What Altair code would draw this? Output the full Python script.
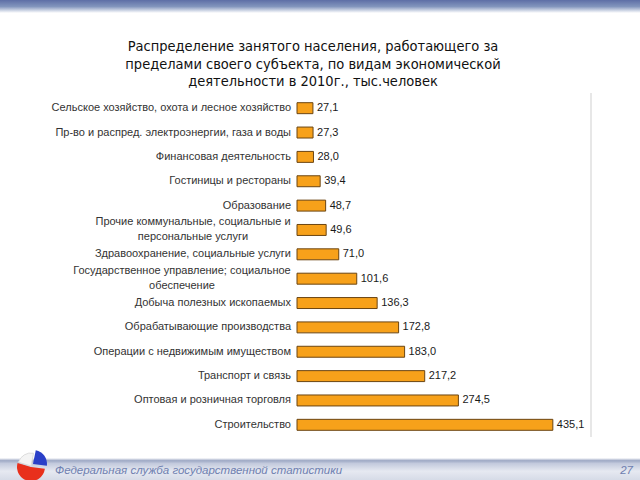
import altair as alt
import pandas as pd

categories = [
    "Сельское хозяйство, охота и лесное хозяйство",
    "Пр-во и распред. электроэнергии, газа и воды",
    "Финансовая деятельность",
    "Гостиницы и рестораны",
    "Образование",
    "Прочие коммунальные, социальные и\nперсональные услуги",
    "Здравоохранение, социальные услуги",
    "Государственное управление; социальное\nобеспечение",
    "Добыча полезных ископаемых",
    "Обрабатывающие производства",
    "Операции с недвижимым имуществом",
    "Транспорт и связь",
    "Оптовая и розничная торговля",
    "Строительство",
]
values = [27.1, 27.3, 28.0, 39.4, 48.7, 49.6, 71.0, 101.6, 136.3, 172.8, 183.0, 217.2, 274.5, 435.1]
x_ticks = [0, 100, 200, 300, 400, 500]
title_lines = [
    "Распределение занятого населения, работающего за",
    "пределами своего субъекта, по видам экономической",
    "деятельности в 2010г., тыс.человек",
]
footer_text = "Федеральная служба государственной статистики"
page_number = "27"

df = pd.DataFrame({"cat": categories, "val": values})
df["multi"] = df["cat"].str.contains("\n")
one = pd.DataFrame({"a": [0]})

W, H = 294, 341
LABEL_FONT = "Liberation Sans"
TITLE_FONT = "DejaVu Sans Condensed, Roboto Condensed, Roboto, sans-serif"

y_sort = categories
y_axis = alt.Axis(labels=False, title=None, bandPosition=0, tickSize=5, grid=False,
                  domainColor="#7f7f7f", tickColor="#7f7f7f")
x_axis = alt.Axis(values=x_ticks, labels=False, title=None, grid=False, tickSize=5,
                  domainColor="#9a9a9a", tickColor="#9a9a9a")
x_scale = alt.Scale(domain=[x_ticks[0], x_ticks[-1]], nice=False)
y_scale = alt.Scale(paddingInner=0, paddingOuter=0)

bars = alt.Chart(df).mark_bar(
    height=alt.RelativeBandSize(0.45), color="#F7A11A", stroke="#6b4512", strokeWidth=1
).encode(
    x=alt.X("val:Q", scale=x_scale, axis=x_axis),
    y=alt.Y("cat:N", sort=y_sort, scale=y_scale, axis=y_axis),
)

val_labels = alt.Chart(df).transform_calculate(
    lbl="replace(format(datum.val, '.1f'), '.', ',')"
).mark_text(align="left", baseline="middle", dx=4, fontSize=11, font=LABEL_FONT, color="#1a1a1a").encode(
    x=alt.X("val:Q", axis=None),
    y=alt.Y("cat:N", sort=y_sort, axis=None),
    text="lbl:N",
)

cat_single = alt.Chart(df).transform_filter("!datum.multi").mark_text(
    align="right", baseline="middle", fontSize=11, font=LABEL_FONT, color="#333333"
).encode(
    x=alt.value(-6),
    y=alt.Y("cat:N", sort=y_sort, axis=None),
    text="cat:N",
)

multi_layers = []
for cat, xc in [(categories[5], -104), (categories[7], -115)]:
    multi_layers.append(
        alt.Chart(df).transform_filter(alt.datum.cat == cat).mark_text(
            align="center", baseline="middle", lineBreak="\n", lineHeight=15, dy=-7.5,
            fontSize=11, font=LABEL_FONT, color="#333333"
        ).encode(
            x=alt.value(xc),
            y=alt.Y("cat:N", sort=y_sort, axis=None),
            text="cat:N",
        )
    )

right_border = alt.Chart(pd.DataFrame({"v": [x_ticks[-1]]})).mark_rule(color="#cfcfcf", strokeWidth=1).encode(
    x=alt.X("v:Q", axis=None), y=alt.value(-3), y2=alt.value(H)
)

title = alt.Chart(pd.DataFrame({"t": ["\n".join(title_lines)]})).mark_text(
    align="center", baseline="middle", lineBreak="\n", lineHeight=17.5,
    fontSize=14.5, font=TITLE_FONT, color="#111111"
).encode(x=alt.value(16), y=alt.value(-49), text="t:N")

header_grad = alt.Gradient(
    gradient="linear", x1=0, y1=0, x2=0, y2=1,
    stops=[alt.GradientStop(color="#5d6ea6", offset=0),
           alt.GradientStop(color="#8295bd", offset=0.5),
           alt.GradientStop(color="#ffffff", offset=1)],
)
header = alt.Chart(one).mark_rect(color=header_grad).encode(
    x=alt.value(-297), x2=alt.value(343), y=alt.value(-96), y2=alt.value(-83)
)

footer_grad = alt.Gradient(
    gradient="linear", x1=0, y1=0, x2=0, y2=1,
    stops=[alt.GradientStop(color="#ffffff", offset=0),
           alt.GradientStop(color="#9ea9c5", offset=0.12),
           alt.GradientStop(color="#c3cadd", offset=0.25),
           alt.GradientStop(color="#e6e9f1", offset=0.6),
           alt.GradientStop(color="#d6dbe7", offset=1)],
)
footer = alt.Chart(one).mark_rect(color=footer_grad).encode(
    x=alt.value(-297), x2=alt.value(343), y=alt.value(362), y2=alt.value(384)
)

footer_label = alt.Chart(pd.DataFrame({"t": [footer_text]})).mark_text(
    align="left", baseline="middle", fontSize=11.5, font="Liberation Sans", fontStyle="italic",
    color="#6f80b0"
).encode(x=alt.value(-242), y=alt.value(375), text="t:N")

page_label = alt.Chart(pd.DataFrame({"t": [page_number]})).mark_text(
    align="right", baseline="middle", fontSize=11.5, font="Liberation Sans", fontStyle="italic",
    color="#6f80b0"
).encode(x=alt.value(336), y=alt.value(375), text="t:N")

logo = [
    alt.Chart(one).mark_arc(theta=1.7, theta2=5.0, outerRadius=14, color="#e8301c").encode(
        x=alt.value(-266), y=alt.value(371)),
    alt.Chart(one).mark_arc(theta=5.0, theta2=6.48, outerRadius=13, color="#f4f4f4", stroke="#dddddd").encode(
        x=alt.value(-266), y=alt.value(370)),
    alt.Chart(one).mark_arc(theta=0.2, theta2=1.7, outerRadius=14, color="#2a3fc8").encode(
        x=alt.value(-264), y=alt.value(368)),
]

chart = alt.layer(
    header, footer, *logo, footer_label, page_label, title,
    right_border, bars, val_labels, cat_single, *multi_layers
).properties(
    width=W, height=H,
    autosize=alt.AutoSizeParams(type="none"),
    padding={"left": 297, "top": 96, "right": 49, "bottom": 43},
    background="white",
).configure_view(stroke=None)

chart.save("out.html", embed_options={"renderer": "svg", "actions": False})
